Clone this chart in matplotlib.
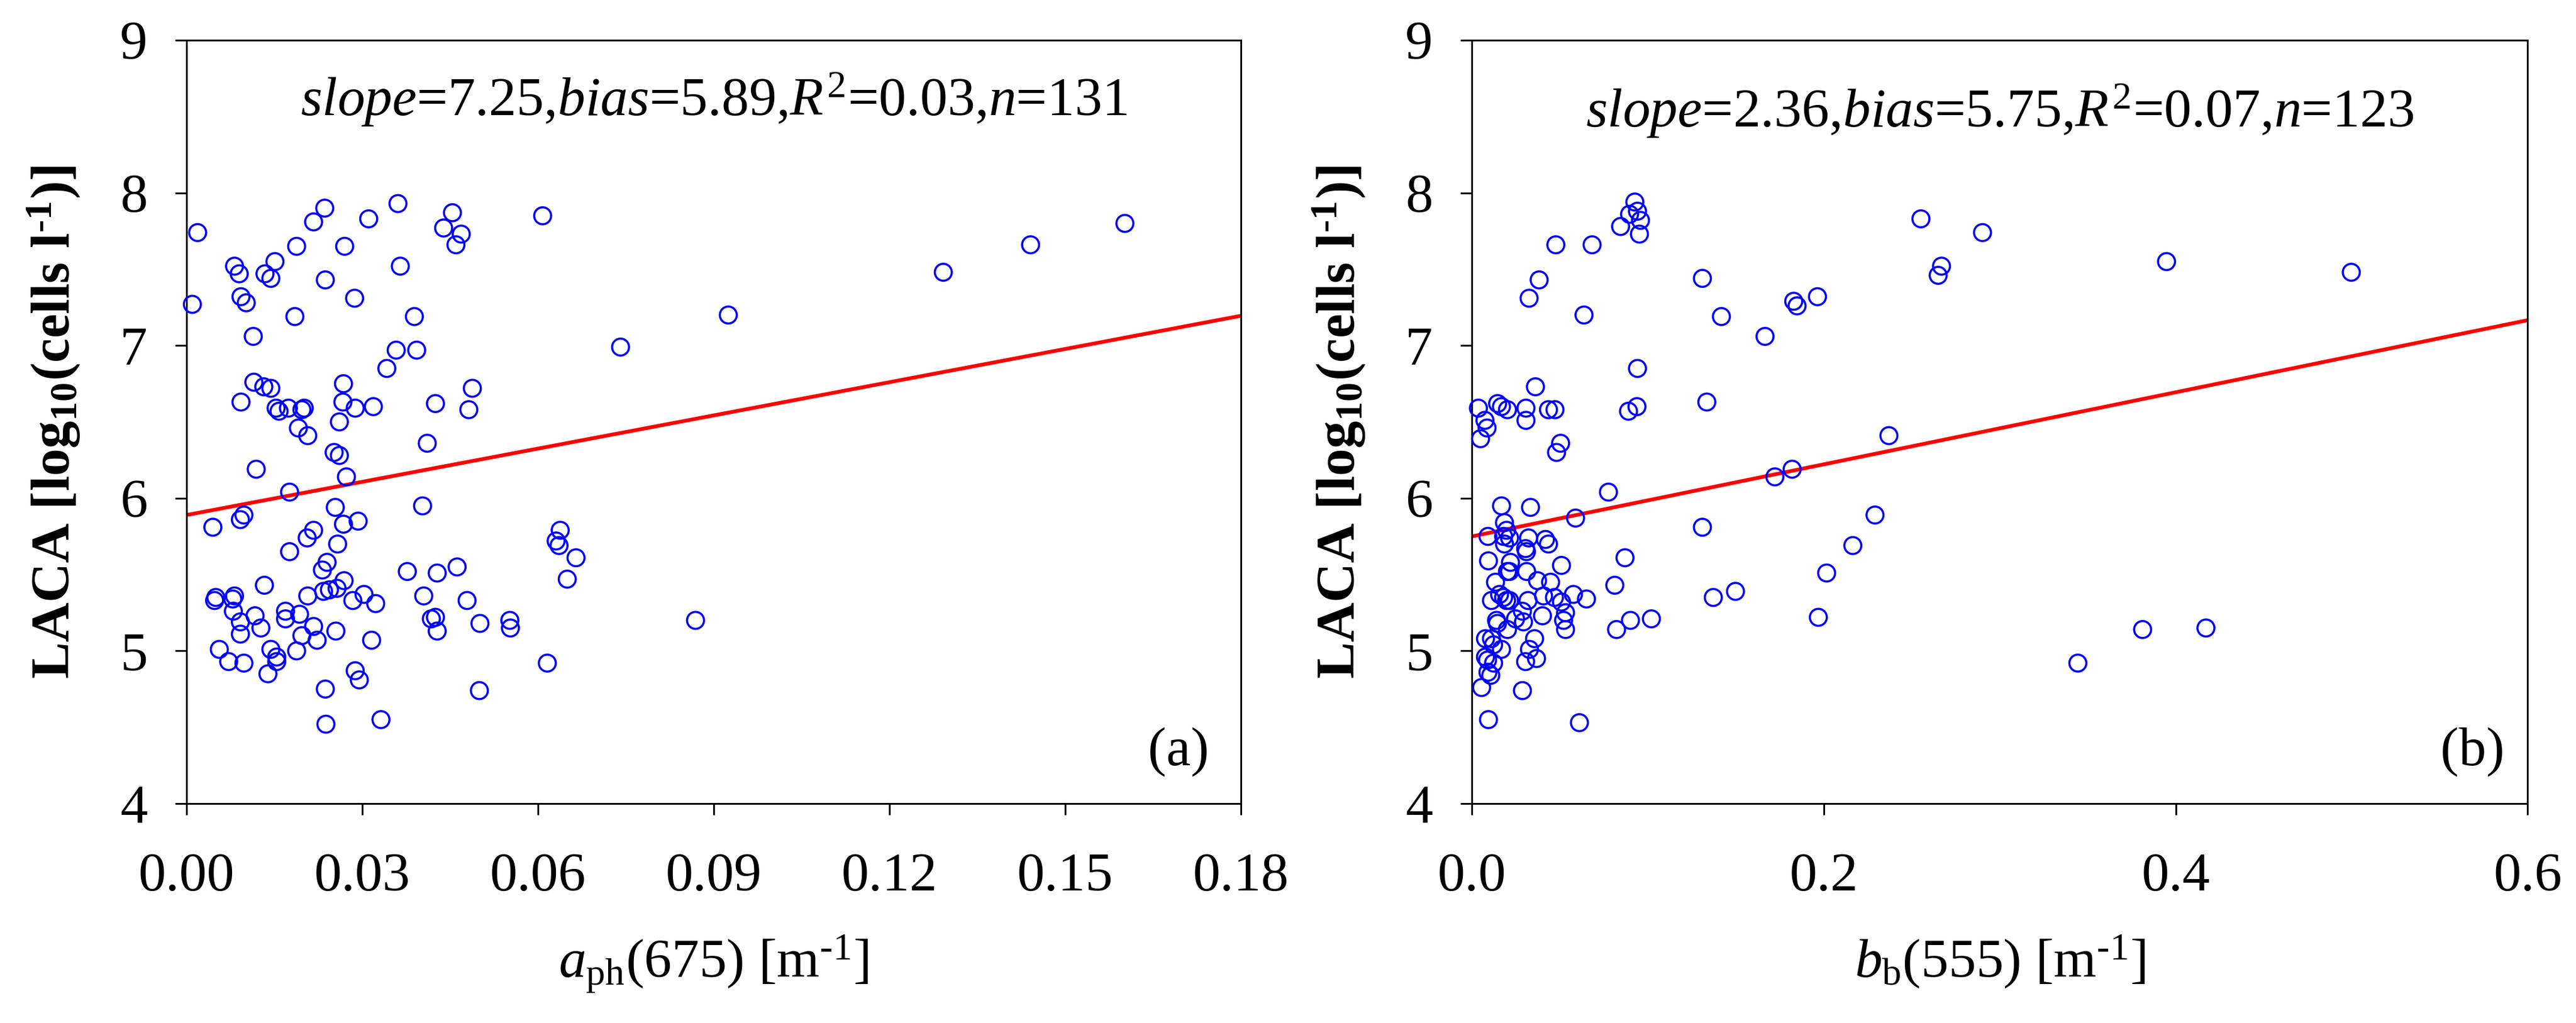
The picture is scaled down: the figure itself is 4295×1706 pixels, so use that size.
import matplotlib
matplotlib.use("Agg")
import matplotlib.pyplot as plt
from matplotlib.ticker import FormatStrFormatter

plt.rcParams['font.family'] = ['Liberation Serif', 'DejaVu Serif']
plt.rcParams['mathtext.fontset'] = 'custom'
plt.rcParams['mathtext.rm'] = 'Liberation Serif'
plt.rcParams['mathtext.it'] = 'Liberation Serif:italic'
plt.rcParams['mathtext.bf'] = 'Liberation Serif:bold'

# panel (a): aph(675) vs LACA
aph = [0.0010, 0.0019, 0.0082, 0.0090, 0.0093, 0.0102, 0.0134, 0.0144, 0.0151, 0.0114,
       0.0185, 0.0188, 0.0217, 0.0236, 0.0237, 0.0270, 0.0287, 0.0311, 0.0361, 0.0365,
       0.0389, 0.0439, 0.0454, 0.0460, 0.0469, 0.0608, 0.0741, 0.0925, 0.1292, 0.1441,
       0.1602,
       0.0093, 0.0115, 0.0132, 0.0144, 0.0153, 0.0158, 0.0174, 0.0197, 0.0201, 0.0191,
       0.0207, 0.0119, 0.0176, 0.0252, 0.0261, 0.0261, 0.0268, 0.0267, 0.0288, 0.0273,
       0.0319, 0.0342, 0.0358, 0.0393, 0.0411, 0.0425, 0.0482, 0.0488, 0.0403, 0.0254,
       0.0045, 0.0092, 0.0098, 0.0217, 0.0206, 0.0268, 0.0293, 0.0258, 0.0176, 0.0240,
       0.0232, 0.0133, 0.0269, 0.0207, 0.0234, 0.0244, 0.0257, 0.0050, 0.0048, 0.0082,
       0.0079, 0.0303, 0.0284, 0.0323, 0.0080, 0.0377, 0.0428, 0.0462, 0.0405, 0.0479,
       0.0418, 0.0425, 0.0428, 0.0501, 0.0552, 0.0553, 0.0638, 0.0631, 0.0636, 0.0665,
       0.0650, 0.0616, 0.0500, 0.0092, 0.0092, 0.0117, 0.0127, 0.0169, 0.0169, 0.0193,
       0.0197, 0.0217, 0.0223, 0.0255, 0.0316, 0.0056, 0.0072, 0.0098, 0.0144, 0.0154,
       0.0154, 0.0139, 0.0188, 0.0288, 0.0295, 0.0237, 0.0238, 0.0332, 0.0869]
laca_a = [7.27, 7.74, 7.52, 7.47, 7.32, 7.28, 7.47, 7.44, 7.55, 7.06,
          7.19, 7.65, 7.81, 7.90, 7.43, 7.65, 7.31, 7.83, 7.93, 7.52,
          7.19, 7.77, 7.87, 7.66, 7.73, 7.85, 6.99, 7.20, 7.48, 7.66,
          7.80,
          6.63, 6.76, 6.73, 6.72, 6.59, 6.57, 6.59, 6.58, 6.59, 6.46,
          6.41, 6.19, 6.04, 6.30, 6.28, 6.50, 6.75, 6.63, 6.59, 6.14,
          6.60, 6.85, 6.97, 6.97, 6.36, 6.62, 6.58, 6.72, 5.95, 5.94,
          5.81, 5.86, 5.89, 5.79, 5.74, 5.83, 5.85, 5.70, 5.65, 5.58,
          5.53, 5.43, 5.46, 5.36, 5.39, 5.40, 5.41, 5.35, 5.33, 5.36,
          5.34, 5.37, 5.33, 5.31, 5.26, 5.52, 5.51, 5.55, 5.36, 5.33,
          5.21, 5.22, 5.13, 5.18, 5.20, 5.15, 5.79, 5.72, 5.69, 5.61,
          5.47, 4.92, 4.74, 5.19, 5.11, 5.23, 5.15, 5.26, 5.21, 5.24,
          5.10, 5.16, 5.07, 5.13, 5.07, 5.01, 4.93, 4.92, 5.01, 4.96,
          4.93, 4.85, 5.00, 4.87, 4.81, 4.75, 4.52, 4.55, 5.20]

# panel (b): bb(555) vs LACA
bb = [0.0926, 0.0941, 0.0896, 0.0958, 0.0845, 0.0952, 0.0477, 0.0683, 0.0382, 0.0325,
      0.0637, 0.1310, 0.0941, 0.0361, 0.0037, 0.0146, 0.0168, 0.0202, 0.0307, 0.0307,
      0.0435, 0.0472, 0.0890, 0.0938, 0.1335, 0.0074, 0.0086, 0.0049, 0.0504, 0.0481,
      0.0776, 0.0168, 0.0333, 0.0589, 0.1310, 0.0185, 0.0197, 0.0091, 0.0180, 0.0214,
      0.0185, 0.0322, 0.0418, 0.0435, 0.0305, 0.0310, 0.0094, 0.0219, 0.0509, 0.0870,
      0.0202, 0.0214, 0.0311, 0.0134, 0.0373, 0.0447, 0.0812, 0.0157, 0.0319, 0.0407,
      0.0111, 0.0180, 0.0197, 0.0214, 0.0469, 0.0509, 0.0577, 0.0651, 0.0287, 0.0401,
      0.0532, 0.0521, 0.0532, 0.0140, 0.0145, 0.0248, 0.0293, 0.0202, 0.0901, 0.1020,
      0.0822, 0.0077, 0.0111, 0.0123, 0.0168, 0.0356, 0.0327, 0.0077, 0.0089, 0.0123,
      0.0305, 0.0367, 0.0091, 0.0107, 0.0055, 0.0287, 0.0094, 0.0611,
      0.1418, 0.1666, 0.1829, 0.1848, 0.1964, 0.1372, 0.1498, 0.1722, 0.1820, 0.2370,
      0.2291, 0.2165, 0.2016, 0.1969, 0.2552, 0.2650, 0.2669, 0.2902, 0.3948, 0.4998,
      0.3444, 0.3812, 0.4172]
laca_b = [7.94, 7.88, 7.86, 7.82, 7.78, 7.73, 7.66, 7.66, 7.43, 7.31,
          7.20, 7.44, 6.85, 6.73, 6.59, 6.62, 6.60, 6.58, 6.59, 6.51,
          6.58, 6.58, 6.57, 6.60, 6.63, 6.51, 6.46, 6.39, 6.36, 6.30,
          6.04, 5.95, 5.94, 5.87, 5.81, 5.84, 5.79, 5.75, 5.75, 5.74,
          5.70, 5.74, 5.73, 5.70, 5.67, 5.65, 5.59, 5.58, 5.56, 5.61,
          5.52, 5.52, 5.52, 5.45, 5.46, 5.45, 5.43, 5.37, 5.33, 5.36,
          5.33, 5.35, 5.33, 5.33, 5.35, 5.32, 5.37, 5.34, 5.26, 5.23,
          5.25, 5.20, 5.14, 5.20, 5.18, 5.21, 5.19, 5.14, 5.20, 5.21,
          5.14, 5.08, 5.08, 5.04, 5.01, 5.08, 5.01, 4.96, 4.94, 4.92,
          4.93, 4.95, 4.86, 4.84, 4.76, 4.74, 4.55, 4.53,
          7.19, 7.06, 7.29, 7.26, 7.32, 5.35, 5.39, 6.14, 6.19, 6.41,
          5.89, 5.69, 5.51, 5.22, 7.83, 7.46, 7.52, 7.74, 7.55, 7.48,
          4.92, 5.14, 5.15]

# fitted lines (slope, bias) as printed on the panels
fit_a = (7.25, 5.89)
fit_b = (2.36, 5.75)
xlim_a = (0.0, 0.18)
xlim_b = (0.0, 0.6)

fig = plt.figure(figsize=(4295 / 300, 1706 / 300), dpi=300)
ax1 = fig.add_axes([0.0724, 0.2145, 0.4093, 0.7462])
ax2 = fig.add_axes([0.5714, 0.2145, 0.4098, 0.7462])

panels = [
    (ax1, aph, laca_a, fit_a, xlim_a, [0.0, 0.03, 0.06, 0.09, 0.12, 0.15, 0.18], '%.2f',
     r'$\mathit{a}_{\mathrm{ph}}$(675) [m$^{\mathrm{\text{-}1}}$]',
     r'$\mathit{slope}$=7.25,$\mathit{bias}$=5.89,$\mathit{R}^{2}$=0.03,$\mathit{n}$=131', 0.901,
     '(a)', 0.970),
    (ax2, bb, laca_b, fit_b, xlim_b, [0.0, 0.2, 0.4, 0.6], '%.1f',
     r'$\mathit{b}_{\mathrm{b}}$(555) [m$^{\mathrm{\text{-}1}}$]',
     r'$\mathit{slope}$=2.36,$\mathit{bias}$=5.75,$\mathit{R}^{2}$=0.07,$\mathit{n}$=123', 0.886,
     '(b)', 0.978),
]

for ax, x, y, fit, xlim, xt, fmt, xlab, ann, ann_y, tag, tag_x in panels:
    ax.scatter(x, y, s=46, facecolors='none', edgecolors='#0000FF', linewidths=0.85,
               zorder=3, clip_on=False)
    ax.plot(list(xlim), [fit[1] + fit[0] * xlim[0], fit[1] + fit[0] * xlim[1]],
            color='#FF0000', lw=1.5, zorder=2)
    ax.set_xlim(*xlim)
    ax.set_ylim(4, 9)
    ax.set_xticks(xt)
    ax.set_yticks([4, 5, 6, 7, 8, 9])
    ax.xaxis.set_major_formatter(FormatStrFormatter(fmt))
    ax.tick_params(axis='both', direction='out', length=4.6, width=0.7, labelsize=22,
                   top=False, right=False)
    ax.tick_params(axis='x', pad=15)
    ax.tick_params(axis='y', pad=11)
    for sp in ax.spines.values():
        sp.set_linewidth(0.7)
    ax.set_xlabel(xlab, fontsize=22)
    ax.xaxis.set_label_coords(0.5, -0.17)
    ax.set_ylabel(r'LACA [log$_{\mathbf{10}}$(cells l$^{\mathbf{\text{-}1}}$)]',
                  fontsize=22, fontweight='bold')
    ax.yaxis.set_label_coords(-0.099, 0.5)
    ax.text(0.5, ann_y, ann, transform=ax.transAxes, ha='center', va='baseline', fontsize=22)
    ax.text(tag_x, 0.051, tag, transform=ax.transAxes, ha='right', va='baseline', fontsize=22)

fig.savefig('out.png', dpi=300)
